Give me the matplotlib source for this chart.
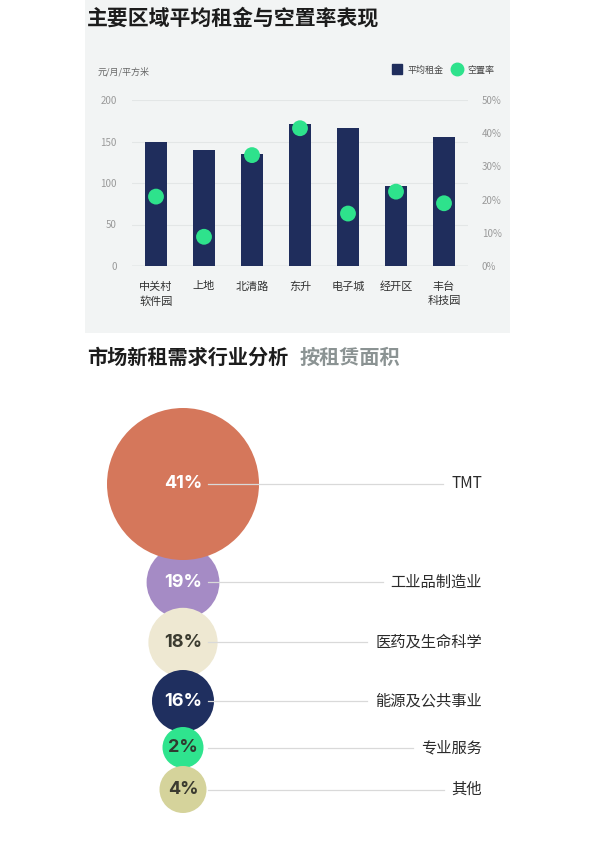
import matplotlib
matplotlib.use("Agg")
import matplotlib.pyplot as plt
from matplotlib.patches import Circle, Rectangle
from matplotlib.lines import Line2D

plt.rcParams['font.family'] = ['Noto Sans CJK SC', 'DejaVu Sans']

# data
areas = ['中关村\n软件园', '上地', '北清路', '东升', '电子城', '经开区', '丰台\n科技园']
rent = [149, 140, 135, 171, 166, 96, 156]
vacancy = [20.9, 8.8, 33.4, 41.5, 15.8, 22.4, 18.9]

industries = ['TMT', '工业品制造业', '医药及生命科学', '能源及公共事业', '专业服务', '其他']
shares = [41, 19, 18, 16, 2, 4]

NAVY = '#1f2d5c'
GREEN = '#2ee28c'
bubble_colors = ['#d5775b', '#a58bc5', '#eee8d2', '#1f2f5f', '#2fe48e', '#d5d39b']
text_colors = ['white', 'white', '#3b3b30', 'white', '#2f3b30', '#3b3b30']

W, H = 595, 842
fig = plt.figure(figsize=(W / 100, H / 100), dpi=100)
fig.patch.set_facecolor('white')


def fx(px):
    return px / W


def fy(py):
    return 1 - py / H


# light panel behind the first chart
fig.add_artist(Rectangle((fx(85), fy(333)), fx(510) - fx(85), fy(0) - fy(333),
                         transform=fig.transFigure, facecolor='#f2f4f4',
                         edgecolor='none', zorder=0))

fig.text(fx(87), fy(18), '主要区域平均租金与空置率表现', fontsize=15, fontweight='bold',
         color='#1c1c1c', va='center', ha='left')
fig.text(fx(98), fy(72), '元/月/平方米', fontsize=6.5, color='#666666', va='center')

# bar + dot chart
ax = fig.add_axes([fx(132), fy(266), fx(468) - fx(132), fy(100) - fy(266)])
ax.set_facecolor('none')
x = range(len(areas))
ax.bar(x, rent, width=0.46, color=NAVY, zorder=3)
ax.set_xlim(-0.5, len(areas) - 0.5)
ax.set_ylim(0, 200)
ax.set_yticks([0, 50, 100, 150, 200])
ax.grid(axis='y', color='#e3e6e6', linewidth=0.8, zorder=0)
ax.axhline(0, color='#c6cbcb', linewidth=1, zorder=2)
for s in ax.spines.values():
    s.set_visible(False)
ax.tick_params(axis='y', length=0, pad=11, labelsize=7, labelcolor='#9a9a9a')
ax.set_xticks(list(x))
ax.set_xticklabels(areas, fontsize=8, color='#333333', linespacing=1.5, va='top')
ax.tick_params(axis='x', length=0, pad=11)

ax2 = ax.twinx()
ax2.set_ylim(0, 50)
ax2.set_yticks([0, 10, 20, 30, 40, 50])
ax2.set_yticklabels([f'{v}%' for v in [0, 10, 20, 30, 40, 50]])
ax2.tick_params(axis='y', length=0, pad=10, labelsize=7, labelcolor='#9a9a9a')
for s in ax2.spines.values():
    s.set_visible(False)
ax2.scatter(list(x), vacancy, s=130, color=GREEN, zorder=5, edgecolors='none')

handles = [Line2D([], [], marker='s', linestyle='none', markersize=7, color=NAVY),
           Line2D([], [], marker='o', linestyle='none', markersize=9, color=GREEN)]
fig.legend(handles, ['平均租金', '空置率'], loc='center right', ncol=2,
           bbox_to_anchor=(fx(502), fy(70)), frameon=False, fontsize=6.5,
           handletextpad=0.6, columnspacing=1.0, handlelength=1.0,
           labelcolor='#444444')

# second section title
fig.text(fx(87), fy(357), '市场新租需求行业分析', fontsize=14.5, fontweight='bold',
         color='#1c1c1c', va='center', ha='left')
fig.text(fx(300), fy(357), '按租赁面积', fontsize=14.5, fontweight='bold',
         color='#8b9393', va='center', ha='left')

# bubble stack
bx = fig.add_axes([0, 0, 1, 1])
bx.set_xlim(0, W)
bx.set_ylim(H, 0)
bx.axis('off')
bx.set_facecolor('none')


def radius(v):
    # display scale used by the stacked bubbles
    return 1.8 * v + 2.2 if v >= 10 else 1.5 * v + 17.5


cx = 183
cy = 484
overlaps = [0, 14, 11, 7, 5, 2]   # how far each bubble tucks under the one above
label_right = 482
fig.canvas.draw()
renderer = fig.canvas.get_renderer()
prev_r = None
for i, (name, v) in enumerate(zip(industries, shares)):
    r = radius(v)
    if prev_r is not None:
        cy = cy + prev_r + r - overlaps[i]
    prev_r = r
    z = 8 if i == 0 else 2 + i
    bx.add_patch(Circle((cx, cy), r, facecolor=bubble_colors[i], edgecolor='none',
                        zorder=z))
    bx.text(cx, cy, f'{v}%', fontsize=13, fontweight='bold', color=text_colors[i],
            ha='center', va='center', family=['Inter', 'DejaVu Sans'], zorder=10)
    lab = bx.text(label_right, cy, name, fontsize=11, color='#2b2b2b',
                  ha='right', va='center', zorder=10)
    left_px = lab.get_window_extent(renderer).x0
    bx.plot([208, left_px - 8], [cy, cy], color='#d9d9d9', linewidth=0.9, zorder=9)

fig.savefig('out.png', dpi=100)
